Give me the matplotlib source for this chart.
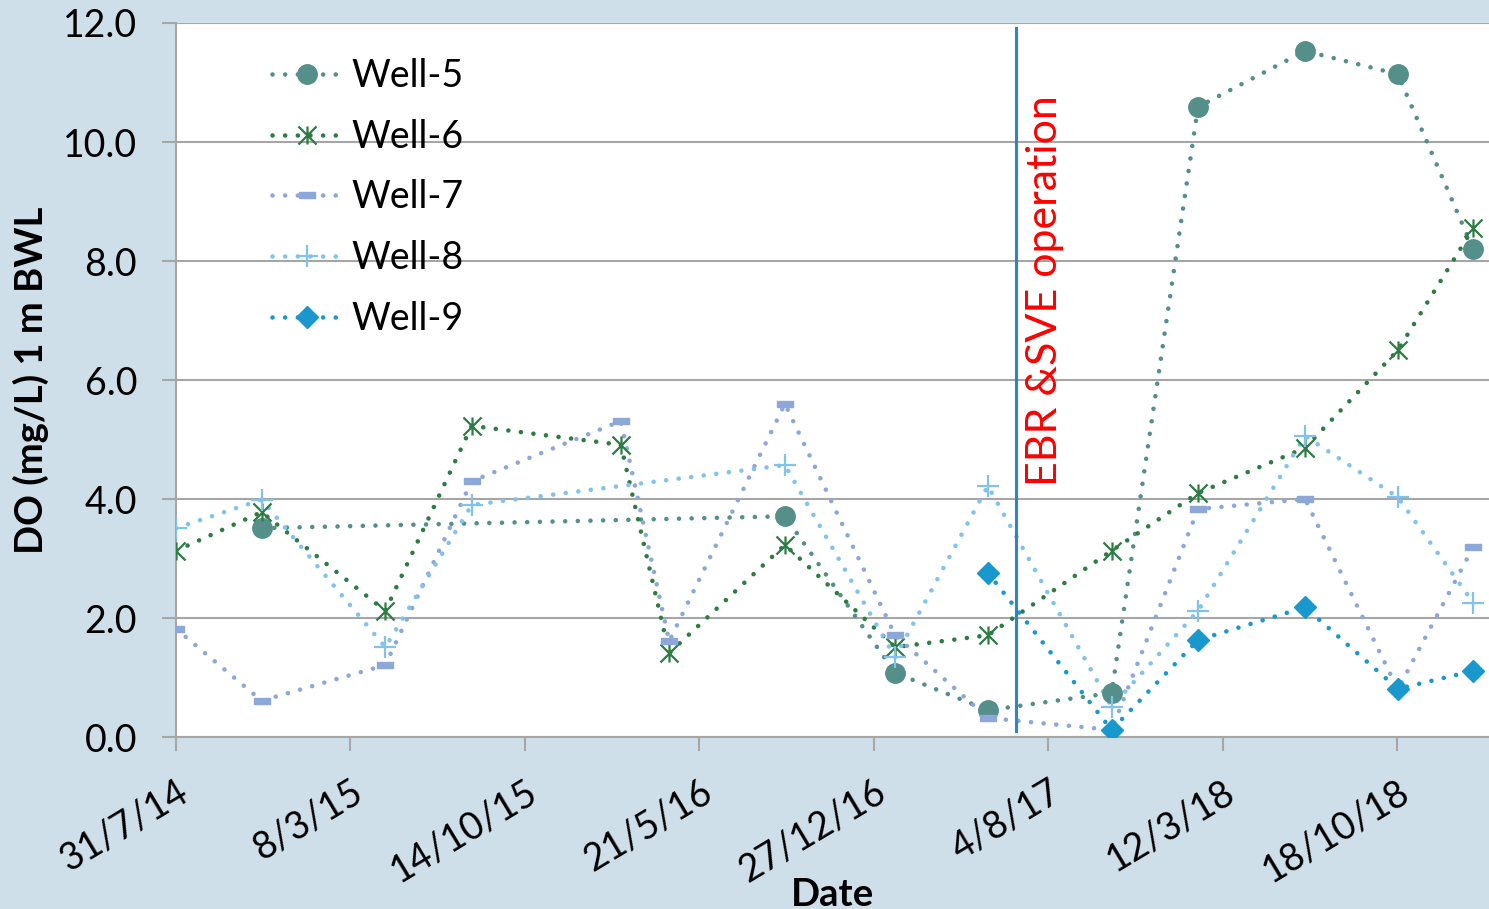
import matplotlib

matplotlib.use("Agg")
import matplotlib.dates as mdates
import matplotlib.pyplot as plt
import numpy as np
from matplotlib.lines import Line2D
from matplotlib.path import Path

plt.rcParams["font.family"] = ["Lato", "DejaVu Sans"]

# sampling dates shared by the wells
dates_all = ["2014-07-31", "2014-11-16", "2015-04-21", "2015-08-08", "2016-02-12",
             "2016-04-13", "2016-09-06", "2017-01-23", "2017-05-20", "2017-10-23",
             "2018-02-09", "2018-06-24", "2018-10-19", "2019-01-22"]

well5_dates = ["2014-11-16", "2016-09-06", "2017-01-23", "2017-05-20", "2017-10-23",
               "2018-02-09", "2018-06-24", "2018-10-19", "2019-01-22"]
well5 = [3.51, 3.71, 1.08, 0.45, 0.74, 10.59, 11.53, 11.14, 8.20]

well6_dates = dates_all
well6 = [3.13, 3.78, 2.12, 5.23, 4.91, 1.41, 3.23, 1.51, 1.71, 3.13, 4.10, 4.86, 6.50, 8.55]

well7_dates = dates_all
well7 = [1.82, 0.61, 1.21, 4.30, 5.31, 1.61, 5.60, 1.71, 0.32, 0.12, 3.83, 4.00, 0.80, 3.19]

well8_dates = ["2014-07-31", "2014-11-16", "2015-04-21", "2015-08-08", "2016-09-06",
               "2017-01-23", "2017-05-20", "2017-10-23", "2018-02-09", "2018-06-24",
               "2018-10-19", "2019-01-22"]
well8 = [3.51, 3.99, 1.51, 3.90, 4.57, 1.34, 4.22, 0.51, 2.12, 5.06, 4.03, 2.26]

well9_dates = ["2017-05-20", "2017-10-23", "2018-02-09", "2018-06-24", "2018-10-19", "2019-01-22"]
well9 = [2.76, 0.12, 1.63, 2.18, 0.81, 1.11]

tick_dates = ["2014-07-31", "2015-03-08", "2015-10-14", "2016-05-21",
              "2016-12-27", "2017-08-04", "2018-03-12", "2018-10-18"]
tick_labels = ["31/7/14", "8/3/15", "14/10/15", "21/5/16",
               "27/12/16", "4/8/17", "12/3/18", "18/10/18"]

ebr_start = "2017-06-24"
ebr_label = "EBR &SVE operation"

BG = "#CFDFEA"
GRID = "#A6A6A6"

# excel-like star: X with a vertical bar
star = Path([(-1, -1), (1, 1), (-1, 1), (1, -1), (0, -1), (0, 1)],
            [Path.MOVETO, Path.LINETO, Path.MOVETO, Path.LINETO, Path.MOVETO, Path.LINETO])
dash = Path([(-1, -0.35), (1, -0.35), (1, 0.35), (-1, 0.35), (-1, -0.35)],
            [Path.MOVETO, Path.LINETO, Path.LINETO, Path.LINETO, Path.CLOSEPOLY])

series = [
    ("Well-5", well5_dates, well5, "#558F8A", dict(marker="o", ms=14)),
    ("Well-6", well6_dates, well6, "#2E7B44", dict(marker=star, ms=13, mfc="none", mew=1.6)),
    ("Well-7", well7_dates, well7, "#8DA8D8", dict(marker=dash, ms=11)),
    ("Well-8", well8_dates, well8, "#82C2EC", dict(marker="+", ms=16, mew=1.6)),
    ("Well-9", well9_dates, well9, "#1898CC", dict(marker="D", ms=11)),
]

DOTS = (0, (0.01, 2.75))
LW = 3.3

fig = plt.figure(figsize=(14.89, 9.09), dpi=100, facecolor=BG)
ax = fig.add_axes([0.1182, 0.1892, 0.8818, 0.7855])
ax.set_facecolor("white")

handles = []
for name, d, v, color, mk in series:
    xd = mdates.date2num(np.array(d, dtype="datetime64[D]"))
    ax.plot(xd, v, color=color, lw=LW, linestyle=DOTS, dash_capstyle="round", zorder=3)
    ax.plot(xd, v, linestyle="none", color=color, zorder=4, **mk)
    handles.append(Line2D([], [], color=color, lw=LW, linestyle=DOTS,
                          dash_capstyle="round", label=name, **mk))

x0 = mdates.date2num(np.datetime64("2014-07-31"))
x1 = mdates.date2num(np.datetime64("2019-02-11"))
ax.set_xlim(x0, x1)
ax.set_ylim(0, 12)

ax.set_yticks(np.arange(0, 12.1, 2))
ax.set_yticklabels([f"{t:.1f}" for t in np.arange(0, 12.1, 2)])
ax.grid(axis="y", color=GRID, lw=1.5, zorder=0)
ax.set_axisbelow(True)

ax.set_xticks(mdates.date2num(np.array(tick_dates, dtype="datetime64[D]")))
ax.set_xticklabels(tick_labels, rotation=31, ha="right", va="top", rotation_mode="anchor")

for s in ["top", "right"]:
    ax.spines[s].set_visible(False)
for s in ["left", "bottom"]:
    ax.spines[s].set_color(GRID)
    ax.spines[s].set_linewidth(1.5)
ax.tick_params(axis="both", colors=GRID, labelcolor="black", labelsize=27,
               length=10, width=1.5, direction="out")
ax.tick_params(axis="x", pad=16)
ax.tick_params(axis="y", pad=18)

ex = mdates.date2num(np.datetime64(ebr_start))
ax.plot([ex, ex], [0.1, 11.92], color="#2A84D2", lw=2.2, zorder=5)
ax.text(mdates.date2num(np.datetime64("2017-07-31")), 7.5, ebr_label, color="red",
        rotation=90, ha="center", va="center", fontsize=31, zorder=6)

ax.set_ylabel("DO (mg/L) 1 m BWL", fontsize=27.5, fontweight="bold", labelpad=10)
ax.set_xlabel("Date", fontsize=27.5, fontweight="bold", labelpad=-8)

ax.legend(handles=handles, loc="upper left", bbox_to_anchor=(0.073, 0.951),
          frameon=False, fontsize=27, borderpad=0, borderaxespad=0,
          handlelength=1.85, handletextpad=0.28, labelspacing=0.66)

fig.savefig("out.png", dpi=100, facecolor=BG)
